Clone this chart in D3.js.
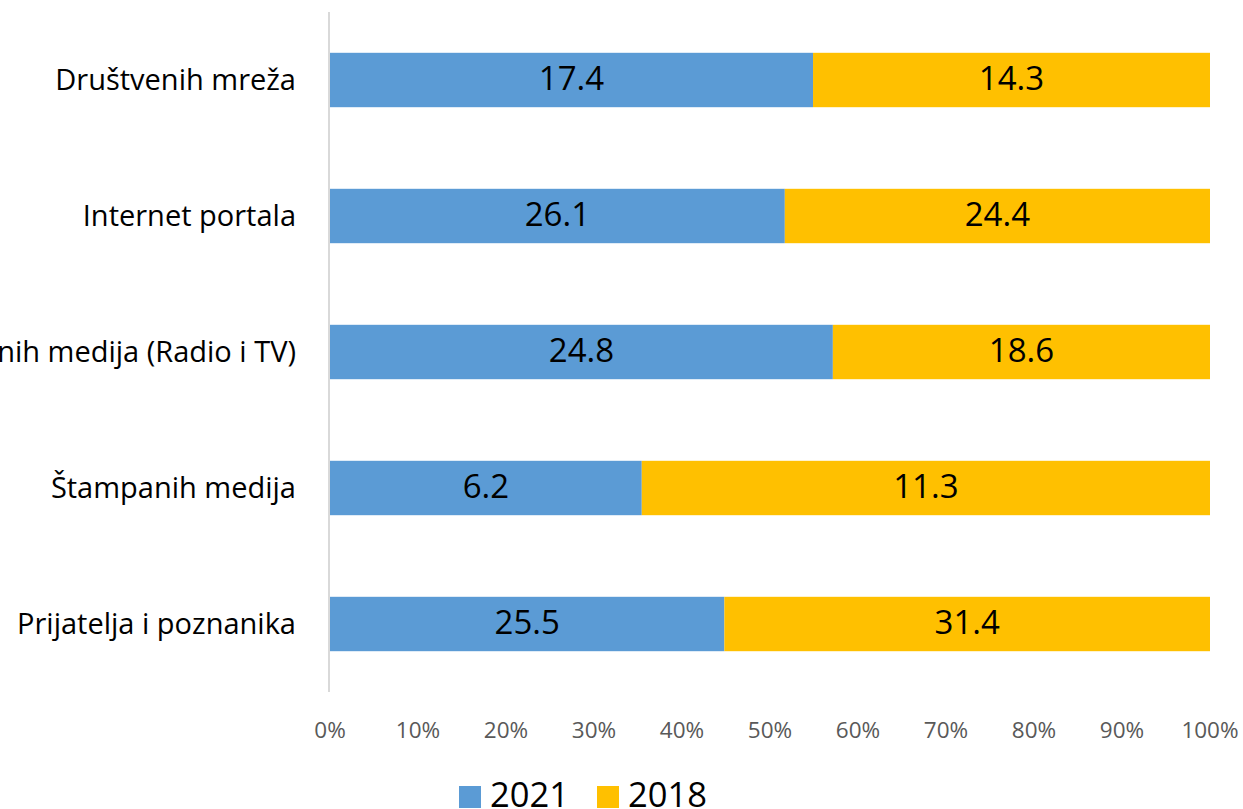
<!DOCTYPE html>
<html><head><meta charset="utf-8">
<script src="https://cdn.jsdelivr.net/npm/d3@7"></script>
<style>body{margin:0;background:#fff;} svg{display:block;}</style>
</head><body>
<svg id="c" width="1243" height="809"></svg>
<script>
const categories = ["Društvenih mreža","Internet portala","Tradicionalnih medija (Radio i TV)","Štampanih medija","Prijatelja i poznanika"];
const series2021 = [17.4, 26.1, 24.8, 6.2, 25.5];
const series2018 = [14.3, 24.4, 18.6, 11.3, 31.4];
const seriesNames = ["2021","2018"];
const colors = ["#5B9BD5","#FFC000"];
const tickValues = [0,0.1,0.2,0.3,0.4,0.5,0.6,0.7,0.8,0.9,1];

const font = "'Open Sans', sans-serif";
const svg = d3.select("#c");
const x = d3.scaleLinear().domain([0,1]).range([330,1210]);
const y = d3.scaleBand().domain(categories).range([12,692]).paddingInner(0.6).paddingOuter(0.3);

const rows = categories.map((c,i)=>{
  const t = series2021[i]+series2018[i];
  return {c, v:[series2021[i], series2018[i]], f:[series2021[i]/t, series2018[i]/t]};
});

svg.append("line").attr("x1",329).attr("x2",329).attr("y1",12).attr("y2",692)
  .attr("stroke","#D9D9D9").attr("stroke-width",2);

rows.forEach(r=>{
  let acc=0;
  const cy = y(r.c)+y.bandwidth()/2;
  r.f.forEach((f,j)=>{
    const x0=x(acc), x1=x(acc+f);
    svg.append("rect").attr("x",x0).attr("y",y(r.c)).attr("width",x1-x0).attr("height",y.bandwidth()).attr("fill",colors[j]);
    svg.append("text").attr("x",(x0+x1)/2).attr("y",cy-2).attr("dy","0.36em")
      .attr("text-anchor","middle").attr("font-family",font).attr("font-size",33).attr("fill","#000")
      .text(r.v[j].toFixed(1));
    acc+=f;
  });
  svg.append("text").attr("x",296).attr("y",cy).attr("dy","0.36em")
    .attr("text-anchor","end").attr("font-family",font).attr("font-size",29).attr("fill","#000").text(r.c);
});

svg.append("g").selectAll("text").data(tickValues).join("text")
  .attr("x",d=>x(d)).attr("y",730).attr("dy","0.36em").attr("text-anchor","middle")
  .attr("font-family",font).attr("font-size",22.5).attr("fill","#595959")
  .text(d=>d3.format(".0%")(d));

const lg=[{n:seriesNames[0],c:colors[0],x:459},{n:seriesNames[1],c:colors[1],x:597}];
lg.forEach(l=>{
  svg.append("rect").attr("x",l.x).attr("y",786).attr("width",22).attr("height",22).attr("fill",l.c);
  svg.append("text").attr("x",l.x+31).attr("y",807).attr("font-family",font)
    .attr("font-size",34.5).attr("fill","#000").text(l.n);
});
</script>
</body></html>
